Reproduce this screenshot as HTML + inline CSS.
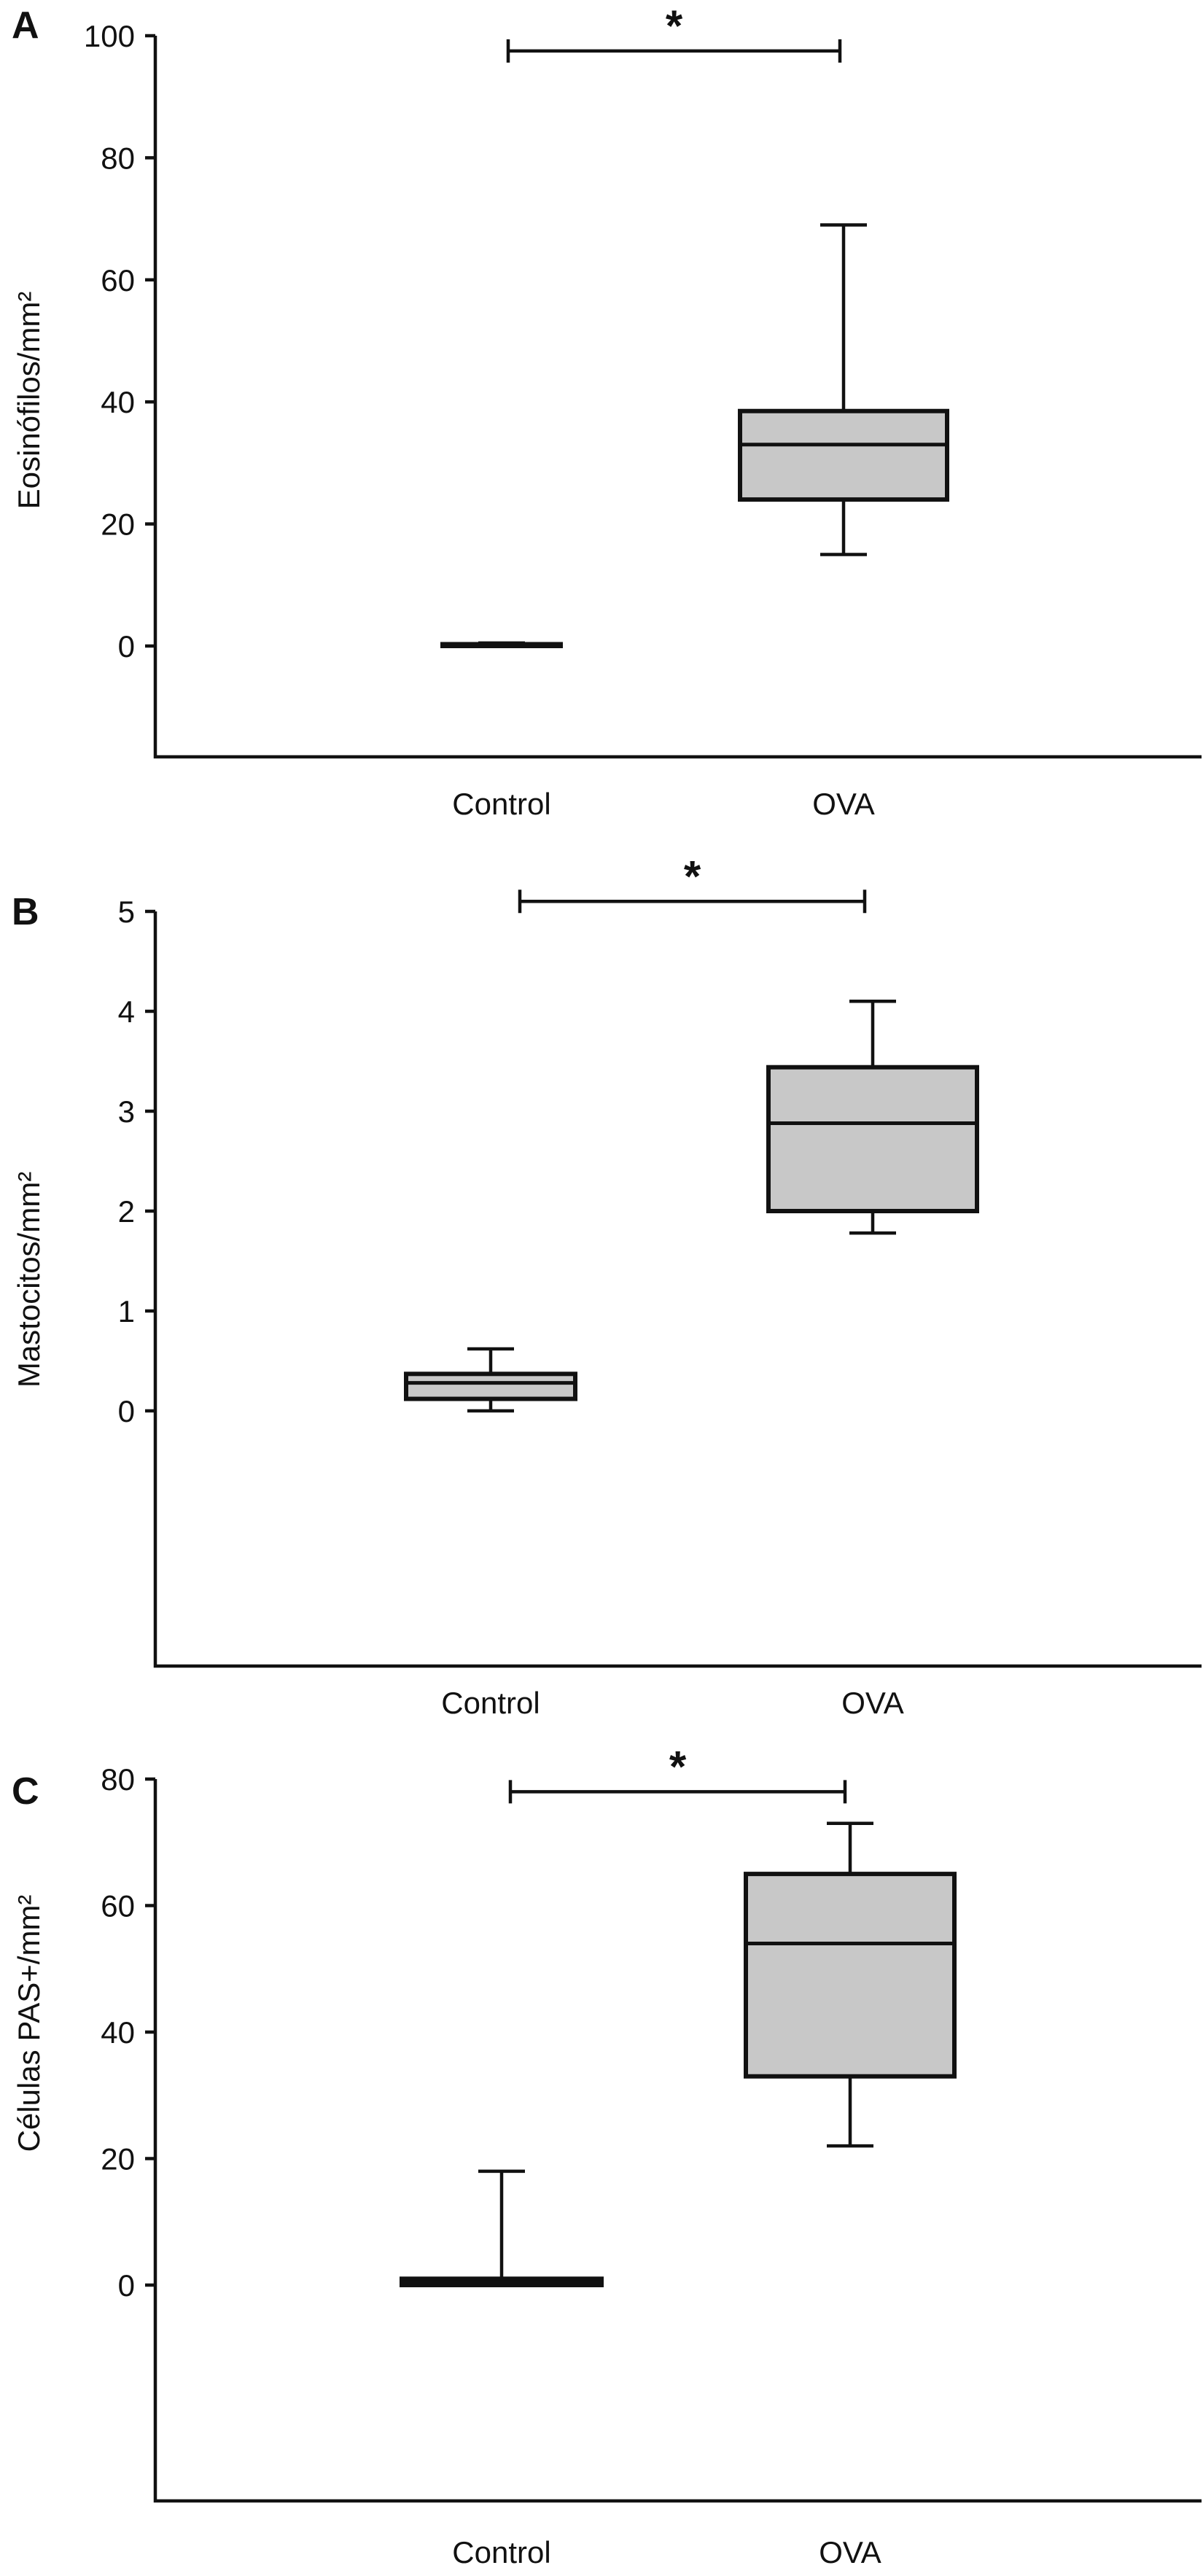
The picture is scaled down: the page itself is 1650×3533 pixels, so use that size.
<!DOCTYPE html>
<html><head><meta charset="utf-8"><style>
html,body{margin:0;padding:0;background:#fff}
svg{display:block}
text{font-family:"Liberation Sans",Arial,sans-serif;fill:#111}
</style></head><body>
<svg id="fig" width="1650" height="3533" viewBox="0 0 1650 3533"></svg>
<script>
const categories = ["Control", "OVA"];
// panel A: Eosinófilos/mm2 [min, q1, median, q3, max]
const eosControl = [0, 0, 0, 0.3, 0.5];
const eosOVA = [15, 24, 33, 38.5, 69];
const eosTicks = [0, 20, 40, 60, 80, 100];
// panel B: Mastocitos/mm2
const mastControl = [0, 0.12, 0.28, 0.37, 0.62];
const mastOVA = [1.78, 2.0, 2.88, 3.44, 4.1];
const mastTicks = [0, 1, 2, 3, 4, 5];
// panel C: Células PAS+/mm2
const pasControl = [0, 0, 0.5, 1, 18];
const pasOVA = [22, 33, 54, 65, 73];
const pasTicks = [0, 20, 40, 60, 80];
// significance bar levels
const sigLevels = [97.5, 5.1, 78];

const NS = "http://www.w3.org/2000/svg";
const svg = document.getElementById("fig");
function mk(tag, attrs, parent, txt) {
  const e = document.createElementNS(NS, tag);
  for (const k in attrs) e.setAttribute(k, attrs[k]);
  if (txt !== undefined) e.textContent = txt;
  (parent || svg).appendChild(e);
  return e;
}

function panel(cfg) {
  const g = mk("g", {});
  
  
  const y = v => cfg.y0 + (v - cfg.vmin) * (cfg.yTop - cfg.y0) / (cfg.vmax - cfg.vmin);
  const sw = 4.5;
  const ax = mk("path", {d: `M${cfg.ax} ${cfg.axTop} V${cfg.bottom} H1648`, fill: "none", stroke: "#111", "stroke-width": sw}, g);
  
  
  cfg.ticks.forEach(t => {
    const tk = mk("line", {x1: cfg.ax - 14, x2: cfg.ax, y1: y(t), y2: y(t), stroke: "#111", "stroke-width": sw}, g);
    
    
    const tl = mk("text", {x: cfg.ax - 28, y: y(t) + 15, "text-anchor": "end", "font-size": 42}, g, String(t));
    
    
  });
  const yt = mk("text", {x: 0, y: 0, "text-anchor": "middle", "font-size": 42, transform: `translate(54 ${cfg.titleY}) rotate(-90)`}, g, cfg.title);
  
  
  const pl = mk("text", {x: 16, y: cfg.letterY, "font-size": 52, "font-weight": "bold"}, g, cfg.letter);
  
  
  cfg.data.forEach((d, i) => {
    const cx = cfg.cx[i], hw = cfg.hw[i], cap = 32;
    const bg = mk("g", {}, g);
    
    
    mk("line", {x1: cx, x2: cx, y1: y(d[0]), y2: y(d[1]), stroke: "#111", "stroke-width": sw}, bg);
    mk("line", {x1: cx, x2: cx, y1: y(d[3]), y2: y(d[4]), stroke: "#111", "stroke-width": sw}, bg);
    mk("line", {x1: cx - cap, x2: cx + cap, y1: y(d[0]), y2: y(d[0]), stroke: "#111", "stroke-width": sw}, bg);
    mk("line", {x1: cx - cap, x2: cx + cap, y1: y(d[4]), y2: y(d[4]), stroke: "#111", "stroke-width": sw}, bg);
    mk("rect", {x: cx - hw, y: y(d[3]), width: 2 * hw, height: Math.max(2, y(d[1]) - y(d[3])), fill: "#c8c8c8", stroke: "#111", "stroke-width": 6}, bg);
    mk("line", {x1: cx - hw, x2: cx + hw, y1: y(d[2]), y2: y(d[2]), stroke: "#111", "stroke-width": 5}, bg);
    const xl = mk("text", {x: cx, y: cfg.labelY, "text-anchor": "middle", "font-size": 42}, g, categories[i]);
    
    
  });
  const sy = y(cfg.sig);
  const sg = mk("g", {}, g);
  
  
  mk("path", {d: `M${cfg.sx[0]} ${sy} H${cfg.sx[1]} M${cfg.sx[0]} ${sy - 16} V${sy + 16} M${cfg.sx[1]} ${sy - 16} V${sy + 16}`, stroke: "#111", "stroke-width": sw, fill: "none"}, sg);
  const st = mk("text", {x: (cfg.sx[0] + cfg.sx[1]) / 2, y: sy - 14, "text-anchor": "middle", "font-size": 60, "font-weight": "bold"}, sg, "*");
  
  
}

panel({name: "panel-a-eosinophils", letter: "A", letterY: 52, title: "Eosinófilos/mm²", titleY: 549,
  ax: 213, axTop: 49, bottom: 1038, y0: 886, yTop: 49, vmin: 0, vmax: 100, ticks: eosTicks,
  data: [eosControl, eosOVA], cx: [688, 1157], hw: [81, 142], labelY: 1117,
  sig: sigLevels[0], sx: [697, 1152]});
panel({name: "panel-b-mast-cells", letter: "B", letterY: 1268, title: "Mastocitos/mm²", titleY: 1755,
  ax: 213, axTop: 1250, bottom: 2285, y0: 1935, yTop: 1250, vmin: 0, vmax: 5, ticks: mastTicks,
  data: [mastControl, mastOVA], cx: [673, 1197], hw: [116, 143], labelY: 2350,
  sig: sigLevels[1], sx: [713, 1186]});
panel({name: "panel-c-pas-cells", letter: "C", letterY: 2474, title: "Células PAS+/mm²", titleY: 2775,
  ax: 213, axTop: 2440, bottom: 3430, y0: 3134, yTop: 2440, vmin: 0, vmax: 80, ticks: pasTicks,
  data: [pasControl, pasOVA], cx: [688, 1166], hw: [137, 143], labelY: 3515,
  sig: sigLevels[2], sx: [700, 1159]});
</script>
</body></html>
